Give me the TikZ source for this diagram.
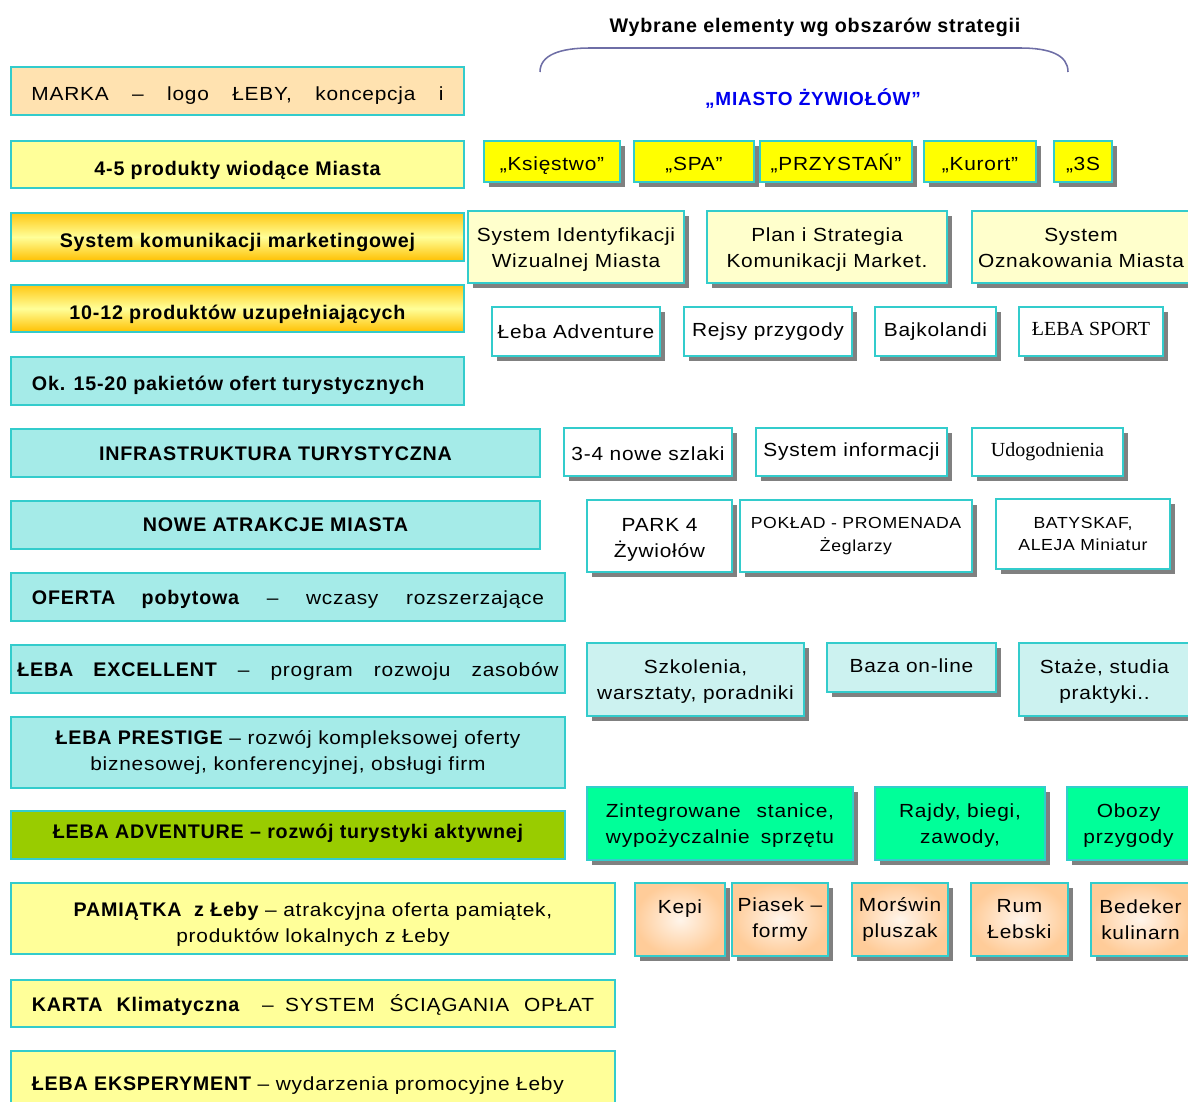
\documentclass[tikz,border=0pt]{standalone}
\usepackage{fontspec}
\setmainfont{Liberation Sans}[FakeStretch=1.1, LetterSpace=4]
\newfontfamily\boldsans{Liberation Sans}[LetterSpace=4]
\newfontfamily\timesfont{Liberation Serif}
\usetikzlibrary{shadows}

\definecolor{turq}{HTML}{33CCCC}
\definecolor{shadowgrey}{HTML}{808080}
\definecolor{peachpale}{HTML}{FFE2B0}
\definecolor{paleyellow}{HTML}{FFFF99}
\definecolor{goldtop}{HTML}{FFC814}
\definecolor{goldbottom}{HTML}{FFC000}
\definecolor{aqua}{HTML}{A5EBE8}
\definecolor{lime}{HTML}{99CC00}
\definecolor{lemon}{HTML}{FFFF00}
\definecolor{cream}{HTML}{FFFFCC}
\definecolor{icecyan}{HTML}{CCF2F0}
\definecolor{spring}{HTML}{00FF99}
\definecolor{peach}{HTML}{FFCC99}
\definecolor{mottoblue}{HTML}{0000EE}
\definecolor{bracegrey}{HTML}{6E6EA6}

\newcommand{\boxfont}{\fontsize{13.5}{18.5}\selectfont}
\newcommand{\boldboxfont}{\boldsans\fontsize{14}{18.5}\selectfont\bfseries}
\newcommand{\smallboxfont}{\fontsize{11.4}{16}\selectfont}
\newcommand{\serifboxfont}{\timesfont\fontsize{14.2}{17}\selectfont}
\newcommand{\heavy}[1]{{\boldboxfont #1}}
\newcommand{\toppad}[1]{\rule{0pt}{#1}}

\begin{document}
\begin{tikzpicture}[
            x = 0.025cm, % one unit = one pixel of the slide
            y = -0.025cm, % y grows downwards
            inner sep = 0pt,
            font = \boxfont,
            line width = 1.4pt, % box border
            wh/.style 2 args = {minimum width=#1*0.025cm, minimum height=#2*0.025cm},
            textline/.style = {text height=#1, text depth=0pt} % puts the baseline #1/2 below the centre
        ]

        \clip (0,0) rectangle (1188,1102);

        \tikzstyle{bar}=[
            draw = turq,
            align = center
        ]
        \tikzstyle{card}=[
            bar,
            drop shadow = {shadow xshift=0.125cm, shadow yshift=-0.125cm, fill=shadowgrey, opacity=1}
        ]
        \tikzstyle{gold}=[
            top color = goldtop,
            bottom color = goldbottom,
            middle color = paleyellow
        ]
        \tikzstyle{souvenir}=[
            card,
            inner color = peach!20,
            outer color = peach
        ]

        % header
        \node (titel) [font=\boldboxfont] at (815,27) {Wybrane elementy wg obszarów strategii};
        \draw[bracegrey, line width=1.1pt] (540,72) .. controls (540,55) and (560,48) .. (590,48)
            -- (1020,48) .. controls (1050,48) and (1068,55) .. (1068,72);
        \node (motto) [text=mottoblue, font=\boldsans\fontsize{13.5}{15}\selectfont\bfseries] at (813,99) {„MIASTO ŻYWIOŁÓW”};

        % areas of the strategy
        \node (marka) [bar, fill=peachpale, wh={453}{48}, textline=13.5pt] at (237.5,91) {\makebox[10.3cm][s]{MARKA – logo ŁEBY, koncepcja i}};
        \node (wiodace) [bar, fill=paleyellow, wh={453}{47}, textline=15pt, font=\boldboxfont] at (237.5,164.5) {4-5 produkty wiodące Miasta};
        \node (komunikacja) [bar, gold, wh={453}{48}, textline=15.6pt, font=\boldboxfont] at (237.5,237) {System komunikacji marketingowej};
        \node (uzupelniajace) [bar, gold, wh={453}{47}, textline=15.4pt, font=\boldboxfont] at (237.5,308.5) {10-12 produktów uzupełniających};
        \node (pakiety) [bar, fill=aqua, wh={453}{48}, textline=14.2pt, font=\boldboxfont] at (237.5,381) {\makebox[10.275cm][l]{Ok. 15-20 pakietów ofert turystycznych}};
        \node (infra) [bar, fill=aqua, wh={529}{48}, textline=10pt, font=\boldboxfont] at (275.5,453) {INFRASTRUKTURA TURYSTYCZNA};
        \node (atrakcje) [bar, fill=aqua, wh={529}{48}, textline=9.5pt, font=\boldboxfont] at (275.5,525) {NOWE ATRAKCJE MIASTA};
        \node (oferta) [bar, fill=aqua, wh={554}{48}, textline=10.4pt] at (288,597) {\makebox[12.8cm][s]{\heavy{OFERTA pobytowa} – wczasy rozszerzające}};
        \node (excellent) [bar, fill=aqua, wh={554}{48}, textline=11pt] at (288,669) {\makebox[13.525cm][s]{\heavy{ŁEBA EXCELLENT} – program rozwoju zasobów}};
        \node (prestige) [bar, fill=aqua, wh={554}{71}] at (288,752.5) {\heavy{ŁEBA PRESTIGE} – rozwój kompleksowej oferty\\biznesowej, konferencyjnej, obsługi firm};
        \node (adventure) [bar, fill=lime, wh={554}{48}, textline=4.3pt, font=\boldboxfont] at (288,835) {ŁEBA ADVENTURE – rozwój turystyki aktywnej};
        \node (pamiatka) [bar, fill=paleyellow, wh={604}{71}] at (313,918.5) {\toppad{18pt}\heavy{PAMIĄTKA\ \ z Łeby} – atrakcyjna oferta pamiątek,\\produktów lokalnych z Łeby};
        \node (karta) [bar, fill=paleyellow, wh={604}{47}, textline=11.7pt] at (313,1003.5) {\makebox[14.05cm][s]{\heavy{KARTA\ \ Klimatyczna}\hspace{1.2em}–\hspace{0.6em}SYSTEM\ \ ŚCIĄGANIA\ \ OPŁAT}};
        \node (eksperyment) [bar, fill=paleyellow, wh={604}{69}, textline=6.4pt] at (313,1085.5) {\makebox[14.05cm][l]{\heavy{ŁEBA EKSPERYMENT} – wydarzenia promocyjne Łeby}};

        % leading products
        \node (ksiestwo) [card, fill=lemon, wh={136}{41}, textline=12.8pt] at (552,161.5) {„Księstwo”};
        \node (spa) [card, fill=lemon, wh={120}{41}, textline=12.8pt] at (694,161.5) {„SPA”};
        \node (przystan) [card, fill=lemon, wh={152}{41}, textline=12.8pt] at (836,161.5) {„PRZYSTAŃ”};
        \node (kurort) [card, fill=lemon, wh={112}{41}, textline=12.8pt] at (980,161.5) {„Kurort”};
        \node (trzys) [card, fill=lemon, wh={58}{41}, textline=12.8pt] at (1083,161.5) {„3S};

        % marketing communication
        \node (identyfikacja) [card, fill=cream, wh={216}{72}] at (576,247) {\toppad{14pt}System Identyfikacji\\Wizualnej Miasta};
        \node (plan) [card, fill=cream, wh={240}{72}] at (827,247) {\toppad{14pt}Plan i Strategia\\Komunikacji Market.};
        \node (oznakowanie) [card, fill=cream, wh={218}{72}] at (1081,247) {\toppad{11.2pt}System\\Oznakowania Miasta};

        % complementary products
        \node (lebaadv) [card, fill=white, wh={168}{49}, textline=9.7pt] at (576,331.5) {Łeba Adventure};
        \node (rejsy) [card, fill=white, wh={168}{49}, textline=7.4pt] at (768,331.5) {Rejsy przygody};
        \node (bajkolandia) [card, fill=white, wh={121}{49}, textline=7.4pt] at (935.5,331.5) {Bajkolandi};
        \node (sport) [card, fill=white, wh={144}{49}, textline=5pt, font=\serifboxfont] at (1091,331.5) {ŁEBA SPORT};

        % infrastructure
        \node (szlaki) [card, fill=white, wh={168}{48}, textline=11.4pt] at (648,452) {3-4 nowe szlaki};
        \node (informacja) [card, fill=white, wh={191}{48}, textline=6.7pt] at (851.5,452) {System informacji};
        \node (udogodnienia) [card, fill=white, wh={151}{48}, textline=5.7pt, font=\serifboxfont] at (1047.5,452) {Udogodnienia};

        % new attractions
        \node (park) [card, fill=white, wh={145}{72}] at (659.5,536) {\toppad{15.3pt}PARK 4\\Żywiołów};
        \node (poklad) [card, fill=white, wh={232}{72}, font=\smallboxfont] at (856,536) {POKŁAD - PROMENADA\\Żeglarzy};
        \node (batyskaf) [card, fill=white, wh={174}{70}, font=\smallboxfont] at (1083,534) {BATYSKAF,\\ALEJA Miniatur};

        % excellent
        \node (szkolenia) [card, fill=icecyan, wh={217}{73}] at (695.5,679.5) {\toppad{12.5pt}Szkolenia,\\warsztaty, poradniki};
        \node (baza) [card, fill=icecyan, wh={169}{49}, textline=7.4pt] at (911.5,667.5) {Baza on-line};
        \node (staze) [card, fill=icecyan, wh={171}{73}] at (1104.5,679.5) {\toppad{12.5pt}Staże, studia\\praktyki..};

        % adventure
        \node (stanice) [card, fill=spring, wh={266}{73}] at (720,823.5) {\toppad{12.5pt}\makebox[5.7cm][s]{Zintegrowane stanice,}\\\makebox[5.7cm][s]{wypożyczalnie sprzętu}};
        \node (rajdy) [card, fill=spring, wh={170}{73}] at (960,823.5) {\toppad{12.5pt}Rajdy, biegi,\\zawody,};
        \node (obozy) [card, fill=spring, wh={123}{73}] at (1128.5,823.5) {\toppad{12.5pt}Obozy\\przygody};

        % souvenirs
        \node (kepi) [souvenir, wh={90}{73}] at (680,919.5) {Kepi\\\phantom{x}};
        \node (piasek) [souvenir, wh={96}{73}] at (780,919.5) {Piasek –\\formy};
        \node (morswin) [souvenir, wh={96}{73}] at (900,919.5) {Morświn\\pluszak};
        \node (rum) [souvenir, wh={97}{73}] at (1019.5,919.5) {Rum\\Łebski};
        \node (bedeker) [souvenir, wh={99}{73}] at (1140.5,919.5) {Bedeker\\kulinarn};

    \end{tikzpicture}
\end{document}
